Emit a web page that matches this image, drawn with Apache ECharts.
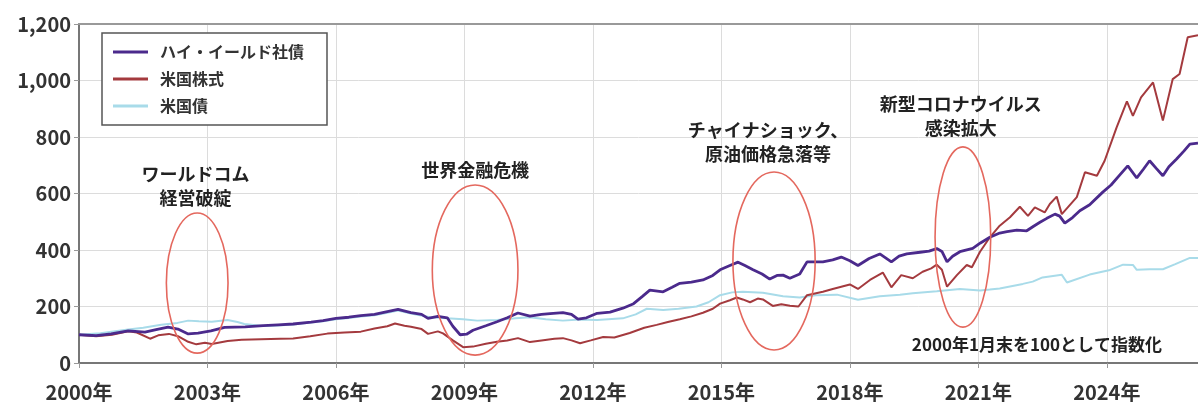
<!DOCTYPE html>
<html>
<head>
<meta charset="utf-8">
<script src="https://cdn.jsdelivr.net/npm/echarts@6/dist/echarts.min.js"></script>
<style>
html,body{margin:0;padding:0;background:#fff;}
#c{width:1198px;height:403px;}
</style>
</head>
<body>
<div id="c"></div>
<script>
// ---- data (decimal year, index value; 2000/1 = 100) ----
const seriesNames = ['ハイ・イールド社債', '米国株式', '米国債'];
const xTickYears = [2000, 2003, 2006, 2009, 2012, 2015, 2018, 2021, 2024];
const yTicks = [0, 200, 400, 600, 800, 1000, 1200];

const highYield = [
[2000.0,100],[2000.4,97],[2000.75,103],[2001.15,114],[2001.54,109],[2001.8,118],[2002.08,127],[2002.31,120],
[2002.55,103],[2002.78,106],[2003.08,114],[2003.4,126],[2003.88,128],[2004.3,132],[2004.65,135],[2005.0,138],
[2005.42,145],[2005.7,150],[2006.0,158],[2006.3,162],[2006.58,168],[2006.9,172],[2007.2,182],[2007.45,190],
[2007.75,178],[2008.0,172],[2008.15,158],[2008.38,165],[2008.6,160],[2008.73,130],[2008.9,100],[2009.05,102],
[2009.2,116],[2009.5,132],[2009.76,146],[2010.0,160],[2010.25,177],[2010.53,166],[2010.8,172],[2011.0,175],
[2011.3,178],[2011.5,172],[2011.65,155],[2011.85,160],[2012.1,176],[2012.4,180],[2012.7,194],[2012.95,210],
[2013.15,235],[2013.33,258],[2013.64,252],[2013.85,268],[2014.03,282],[2014.3,286],[2014.57,294],[2014.8,310],
[2014.97,330],[2015.2,345],[2015.39,357],[2015.55,345],[2015.74,330],[2015.95,315],[2016.13,297],[2016.3,310],
[2016.44,311],[2016.6,300],[2016.83,315],[2017.0,358],[2017.37,358],[2017.6,365],[2017.8,375],[2018.0,362],
[2018.19,345],[2018.45,370],[2018.7,386],[2018.97,358],[2019.15,378],[2019.33,386],[2019.64,392],[2019.85,396],
[2020.03,405],[2020.15,395],[2020.27,358],[2020.4,378],[2020.57,394],[2020.87,406],[2021.05,425],[2021.27,445],
[2021.5,460],[2021.67,465],[2021.9,470],[2022.13,468],[2022.3,485],[2022.44,498],[2022.6,512],[2022.79,527],
[2022.9,520],[2023.02,495],[2023.2,515],[2023.37,539],[2023.6,560],[2023.9,604],[2024.1,630],[2024.3,665],
[2024.49,698],[2024.7,655],[2024.85,685],[2025.0,716],[2025.15,690],[2025.31,663],[2025.45,695],[2025.63,722],
[2025.8,750],[2025.94,775],[2026.13,778]
];

const usStocks = [
[2000.0,100],[2000.4,95],[2000.77,100],[2001.15,112],[2001.35,108],[2001.66,86],[2001.85,98],[2002.1,103],
[2002.31,95],[2002.55,75],[2002.74,66],[2002.94,72],[2003.1,67],[2003.47,78],[2003.8,82],[2004.25,84],
[2004.7,86],[2005.0,87],[2005.4,95],[2005.8,104],[2006.2,108],[2006.58,111],[2006.9,122],[2007.2,130],
[2007.38,140],[2007.6,132],[2007.75,128],[2008.0,120],[2008.15,103],[2008.38,112],[2008.5,105],[2008.73,80],
[2008.97,56],[2009.2,58],[2009.5,68],[2009.76,75],[2010.0,80],[2010.25,88],[2010.53,74],[2010.8,80],
[2011.1,86],[2011.3,88],[2011.5,80],[2011.7,70],[2011.95,80],[2012.24,92],[2012.5,90],[2012.86,106],
[2013.2,125],[2013.49,135],[2013.75,145],[2014.03,155],[2014.3,165],[2014.57,178],[2014.8,192],[2014.97,210],
[2015.2,222],[2015.36,232],[2015.5,225],[2015.67,215],[2015.85,228],[2015.97,225],[2016.2,202],[2016.4,208],
[2016.6,203],[2016.8,200],[2017.0,240],[2017.37,252],[2017.6,262],[2017.8,270],[2018.0,278],[2018.19,262],
[2018.47,294],[2018.77,320],[2018.97,268],[2019.2,311],[2019.47,300],[2019.7,323],[2019.9,335],[2020.03,348],
[2020.15,330],[2020.27,270],[2020.5,311],[2020.73,347],[2020.85,339],[2021.04,394],[2021.27,445],[2021.5,486],
[2021.74,516],[2021.97,553],[2022.16,521],[2022.32,551],[2022.55,533],[2022.67,563],[2022.83,589],[2022.95,527],
[2023.3,587],[2023.49,675],[2023.77,663],[2023.95,716],[2024.23,834],[2024.47,926],[2024.61,875],[2024.8,940],
[2025.08,993],[2025.31,858],[2025.54,1005],[2025.7,1023],[2025.89,1153],[2026.13,1160]
];

const usBonds = [
[2000.0,100],[2000.5,105],[2001.15,119],[2001.5,125],[2001.92,135],[2002.3,142],[2002.55,150],[2002.8,148],
[2003.1,146],[2003.47,152],[2003.7,145],[2003.86,138],[2004.3,131],[2004.65,133],[2005.0,136],[2005.42,143],
[2005.7,148],[2006.0,155],[2006.3,159],[2006.58,165],[2006.9,169],[2007.2,178],[2007.45,186],[2007.75,175],
[2008.2,162],[2008.6,158],[2008.97,155],[2009.3,150],
[2009.76,152],[2010.2,158],[2010.53,162],[2010.9,155],[2011.3,150],[2011.7,154],[2012.1,152],[2012.7,158],
[2013.0,172],[2013.26,192],[2013.64,188],[2014.0,192],[2014.42,200],[2014.7,215],[2014.97,240],[2015.25,250],
[2015.5,252],[2015.97,249],[2016.44,236],[2016.83,232],[2017.2,240],[2017.7,242],[2018.19,224],[2018.7,236],
[2019.17,242],[2019.47,247],[2020.03,254],[2020.57,262],[2021.04,257],[2021.27,260],[2021.5,264],[2022.04,280],
[2022.27,288],[2022.5,303],[2022.95,312],[2023.07,285],[2023.6,313],[2024.05,328],[2024.38,348],[2024.61,347],
[2024.7,330],[2025.0,332],[2025.31,332],[2025.6,350],[2025.94,372],[2026.13,372]
];

const eventLabels = ['ワールドコム\n経営破綻', '世界金融危機', 'チャイナショック、\n原油価格急落等', '新型コロナウイルス\n感染拡大'];
const noteText = '2000年1月末を100として指数化';

// ---- chart ----
const FONT = '"Noto Sans CJK JP","Noto Sans",sans-serif';
const chart = echarts.init(document.getElementById('c'));
const xMin = xTickYears[0], xMax = 2026.13;

const option = {
  animation: false,
  backgroundColor: '#fff',
  textStyle: { fontFamily: FONT },
  grid: { left: 79, right: 0, top: 24, bottom: 40 },
  legend: {
    data: seriesNames,
    orient: 'vertical',
    left: 102, top: 33,
    padding: [11, 23, 11, 11],
    icon: 'rect',
    itemWidth: 35, itemHeight: 3, itemGap: 11,
    borderColor: '#555', borderWidth: 1.5,
    backgroundColor: '#fff',
    textStyle: { fontFamily: FONT, fontSize: 16, fontWeight: 'bold', color: '#333', padding: [0, 0, 0, 7] }
  },
  xAxis: [{
    type: 'value', min: xMin, max: xMax, interval: 3,
    axisLine: { show: true, lineStyle: { color: '#777', width: 2 } },
    axisTick: { show: true, length: 5, lineStyle: { color: '#999' } },
    splitLine: { show: true, lineStyle: { color: '#dcdcdc', width: 1 } },
    axisLabel: { showMaxLabel: false, margin: 19, fontFamily: FONT, fontSize: 20, fontWeight: 'bold', color: '#333',
      formatter: v => v + '年' }
  }, {
    type: 'value', position: 'top', min: xMin, max: xMax,
    axisLine: { show: true, lineStyle: { color: '#999', width: 2 } },
    axisTick: { show: false }, axisLabel: { show: false }, splitLine: { show: false }
  }],
  yAxis: {
    type: 'value', min: yTicks[0], max: yTicks[yTicks.length - 1], interval: 200,
    axisLine: { show: true, lineStyle: { color: '#777', width: 2 } },
    axisTick: { show: true, length: 5, lineStyle: { color: '#999' } },
    splitLine: { show: true, lineStyle: { color: '#dcdcdc', width: 1 } },
    axisLabel: { margin: 8, fontFamily: FONT, fontSize: 20, fontWeight: 'bold', color: '#333',
      formatter: v => v.toLocaleString('en-US') }
  },
  series: [
    { name: seriesNames[0], type: 'line', data: highYield, showSymbol: false, symbol: 'none', z: 4,
      lineStyle: { color: '#4b2a8c', width: 2.8 }, itemStyle: { color: '#4b2a8c' } },
    { name: seriesNames[1], type: 'line', data: usStocks, showSymbol: false, symbol: 'none', z: 3,
      lineStyle: { color: '#a43a3e', width: 2 }, itemStyle: { color: '#a43a3e' } },
    { name: seriesNames[2], type: 'line', data: usBonds, showSymbol: false, symbol: 'none', z: 2,
      lineStyle: { color: '#a8dbe9', width: 2 }, itemStyle: { color: '#a8dbe9' } }
  ]
};
chart.setOption(option);

// annotation anchors in data units: [textX, textY, ellipseCX, ellipseCY, halfWidthYears, halfHeightValue]
const anchors = [
  [2002.72, 627, 2002.76, 283, 0.72, 248],
  [2009.25, 683, 2009.25, 329, 1.0, 301],
  [2016.09, 782, 2016.23, 361, 0.96, 315],
  [2020.59, 873, 2020.64, 446, 0.65, 319]
];
const px = (x, y) => chart.convertToPixel({ gridIndex: 0 }, [x, y]);
const graphics = [];
anchors.forEach((a, i) => {
  const c = px(a[2], a[3]);
  const e = px(a[2] + a[4], a[3] + a[5]);
  graphics.push({
    type: 'ellipse', z: 100,
    shape: { cx: c[0], cy: c[1], rx: Math.abs(e[0] - c[0]), ry: Math.abs(c[1] - e[1]) },
    style: { fill: 'none', stroke: '#e4685e', lineWidth: 1.6 }
  });
  const t = px(a[0], a[1]);
  graphics.push({
    type: 'text', z: 100, x: t[0], y: t[1],
    style: { text: eventLabels[i], fontFamily: FONT, fontSize: 18, fontWeight: 'bold', fill: '#222',
      align: 'center', verticalAlign: 'middle', lineHeight: 24 }
  });
});
const n = px(2022.37, 64);
graphics.push({
  type: 'text', z: 100, x: n[0], y: n[1],
  style: { text: noteText, fontFamily: FONT, fontSize: 17, fontWeight: 'bold', fill: '#222',
    align: 'center', verticalAlign: 'middle' }
});
chart.setOption({ graphic: graphics });
</script>
</body>
</html>
